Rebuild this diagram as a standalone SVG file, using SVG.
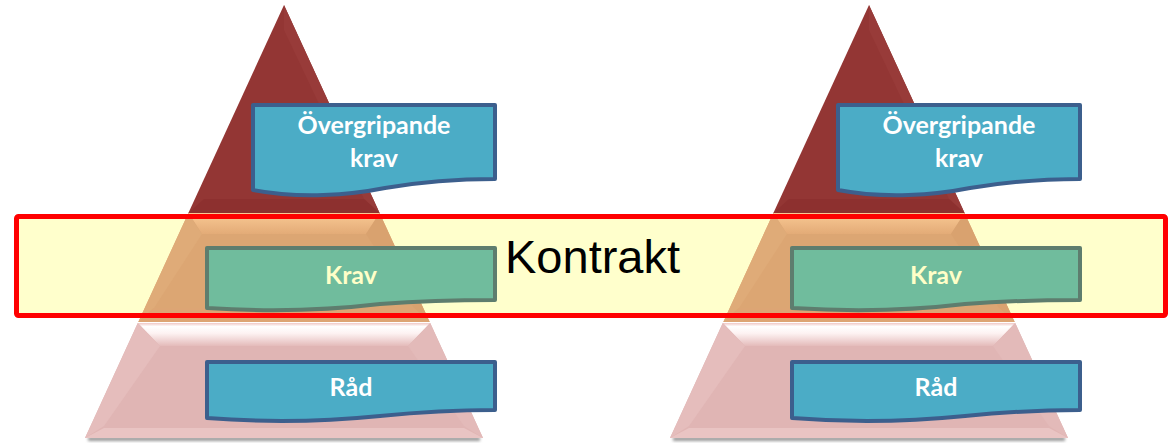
<svg xmlns="http://www.w3.org/2000/svg" width="1170" height="443" viewBox="0 0 1170 443">
  <defs>
    <style>
      .blue { fill: #4BACC6; stroke: #3C5F8D; stroke-width: 4; stroke-linejoin: round; }
      .green { fill: #70BC9D; stroke: #5E7D6E; stroke-width: 4; stroke-linejoin: round; }
      .lbl { font-family: Lato, "Open Sans", "Liberation Sans", sans-serif; font-weight: bold; font-size: 25px; text-anchor: middle; }
      .white { fill: #FFFFFF; }
      .cream { fill: #FFFFC8; }
    </style>
    <linearGradient id="midTop" x1="0" y1="0" x2="0" y2="1">
      <stop offset="0" stop-color="#F9C994"/>
      <stop offset="1" stop-color="#E3AB77"/>
    </linearGradient>
    <linearGradient id="botTop" x1="0" y1="0" x2="0" y2="1">
      <stop offset="0" stop-color="#F0C8C6"/>
      <stop offset="0.15" stop-color="#FFFFFF"/>
      <stop offset="0.45" stop-color="#FDF2F2"/>
      <stop offset="1" stop-color="#E4BBBA"/>
    </linearGradient>
    <filter id="blur" x="-10%" y="-200%" width="120%" height="500%">
      <feGaussianBlur stdDeviation="1.5"/>
    </filter>
    <g id="pyr">
      <rect x="88" y="437" width="392" height="4" fill="#9A9A9A" filter="url(#blur)"/>
      <polygon points="284,5 379.6,213 188.4,213" fill="#933634"/>
      <polygon points="284,5 379.6,213 364,199 284,30" fill="#983B39"/>
      <polygon points="188.4,213 379.6,213 364,199 204,199" fill="#8D302F"/>
      <polygon points="188.4,213 379.6,213 429.7,322 138.3,322" fill="#DCA673"/>
      <polygon points="188.4,213 379.6,213 366,234 202,234" fill="url(#midTop)"/>
      <polygon points="188.4,213 202,234 154,308 138.3,322" fill="#DFAB78"/>
      <polygon points="379.6,213 366,234 414,308 429.7,322" fill="#D9A26F"/>
      <polygon points="138.3,322 429.7,322 414,308 154,308" fill="#DDA574"/>
      <polygon points="137.8,323 430.2,323 483,438 85,438" fill="#E0B5B4"/>
      <polygon points="137.8,323 430.2,323 408,346 160,346" fill="url(#botTop)"/>
      <polygon points="137.8,323 160,346 104,426 85,438" fill="#E5BDBC"/>
      <polygon points="430.2,323 408,346 464,426 483,438" fill="#E3BAB9"/>
      <polygon points="85,438 483,438 464,428 104,428" fill="#E9C4C3"/>
    </g>
  </defs>

  <rect id="kontrakt-fill" x="16.5" y="216.5" width="1149" height="99" fill="#FFFFCC"/>

  <g id="pyramid-left"><use href="#pyr"/></g>
  <g id="pyramid-right"><use href="#pyr" transform="translate(585,0)"/></g>

  <g id="kontrakt">
    <rect x="16.5" y="216.5" width="1149" height="99" rx="2" fill="none" stroke="#FF0000" stroke-width="5"/>
    <text x="505" y="273" font-family="'Liberation Sans', Arial, sans-serif" font-size="47" fill="#000000">Kontrakt</text>
  </g>

  <g id="overgripande-left">
    <path class="blue" d="M253,105 L495,105 L495,179 C450,179 420,182 385,188 C350,195 300,199 253,190 Z"/>
    <text class="lbl white" x="374" y="134">Övergripande</text>
    <text class="lbl white" x="374" y="167">krav</text>
  </g>
  <g id="krav-left">
    <path class="green" d="M207,248 L495,248 L495,300 C450,300 420,301 380,304 C330,310 270,312 207,308 Z"/>
    <text class="lbl cream" x="351" y="284">Krav</text>
  </g>
  <g id="rad-left">
    <path class="blue" d="M207,362 L495,362 L495,410 C450,410 420,412 380,416 C330,421 270,423 207,418 Z"/>
    <text class="lbl white" x="351" y="396">Råd</text>
  </g>

  <g id="overgripande-right" transform="translate(585,0)">
    <path class="blue" d="M253,105 L495,105 L495,179 C450,179 420,182 385,188 C350,195 300,199 253,190 Z"/>
    <text class="lbl white" x="374" y="134">Övergripande</text>
    <text class="lbl white" x="374" y="167">krav</text>
  </g>
  <g id="krav-right" transform="translate(585,0)">
    <path class="green" d="M207,248 L495,248 L495,300 C450,300 420,301 380,304 C330,310 270,312 207,308 Z"/>
    <text class="lbl cream" x="351" y="284">Krav</text>
  </g>
  <g id="rad-right" transform="translate(585,0)">
    <path class="blue" d="M207,362 L495,362 L495,410 C450,410 420,412 380,416 C330,421 270,423 207,418 Z"/>
    <text class="lbl white" x="351" y="396">Råd</text>
  </g>

  <g id="connectors"/>
</svg>
